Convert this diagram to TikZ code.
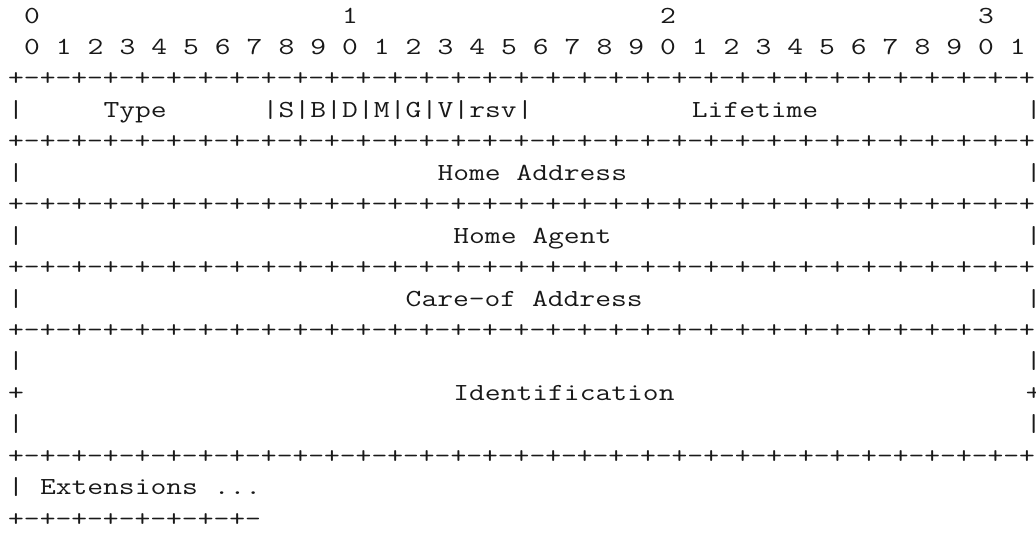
\documentclass[tikz,border=0pt]{standalone}
\usepackage{fontspec}
\newfontfamily\asciimono[FakeStretch=1.252]{Latin Modern Mono}
\usepackage{tikz}
\tikzset{
  ascii/.style={font=\asciimono\fontsize{24.5}{31.45}\selectfont,text=black!90,inner sep=0pt,anchor=base west},
  bar/.style={ascii},
  fieldname/.style={ascii}
}

\begin{document}
\begin{tikzpicture}[x=15.9pt,y=-31.45pt]
  % one unit = one character cell (column, row)
  \useasboundingbox (-8pt,23pt) rectangle (1028pt,-510pt);

  % bit numbering
  \foreach \k in {0,...,3}
    \node[ascii] (tens\k) at (20*\k+1,0) {\k};
  \foreach \b in {0,...,31}{
    \pgfmathtruncatemacro\d{mod(\b,10)}
    \node[ascii] (bit\b) at (2*\b+1,1) {\d};
  }

  % separator rows
  \foreach \r in {2,4,6,8,10,14}
    \node[ascii] (sep\r) at (0,\r) {+-+-+-+-+-+-+-+-+-+-+-+-+-+-+-+-+-+-+-+-+-+-+-+-+-+-+-+-+-+-+-+-+};
  \node[ascii] (sepext) at (0,16) {+-+-+-+-+-+-+-+-};

  % first word: type, flags, lifetime
  \foreach \c in {0,16,18,20,22,24,26,28,32,64}
    \node[bar] (bar3-\c) at (\c,3) {|};
  \node[fieldname] (type) at (6,3) {Type};
  \foreach \f [count=\i from 0] in {S,B,D,M,G,V}
    \node[fieldname] (flag\f) at (17+2*\i,3) {\f};
  \node[fieldname] (rsv) at (29,3) {rsv};
  \node[fieldname] (lifetime) at (43,3) {Lifetime};

  % address words
  \foreach \r in {5,7,9,11,13}{
    \node[bar] (barl\r) at (0,\r) {|};
    \node[bar] (barr\r) at (64,\r) {|};
  }
  \node[fieldname] (homeaddr) at (27,5) {Home Address};
  \node[fieldname] (homeagent) at (28,7) {Home Agent};
  \node[fieldname] (careof) at (25,9) {Care-of Address};

  % 64-bit identification
  \node[bar] (plusl12) at (0,12) {+};
  \node[bar] (plusr12) at (64,12) {+};
  \node[fieldname] (ident) at (28,12) {Identification};

  % extensions
  \node[bar] (barl15) at (0,15) {|};
  \node[fieldname] (ext) at (2,15) {Extensions ...};
\end{tikzpicture}
\end{document}
